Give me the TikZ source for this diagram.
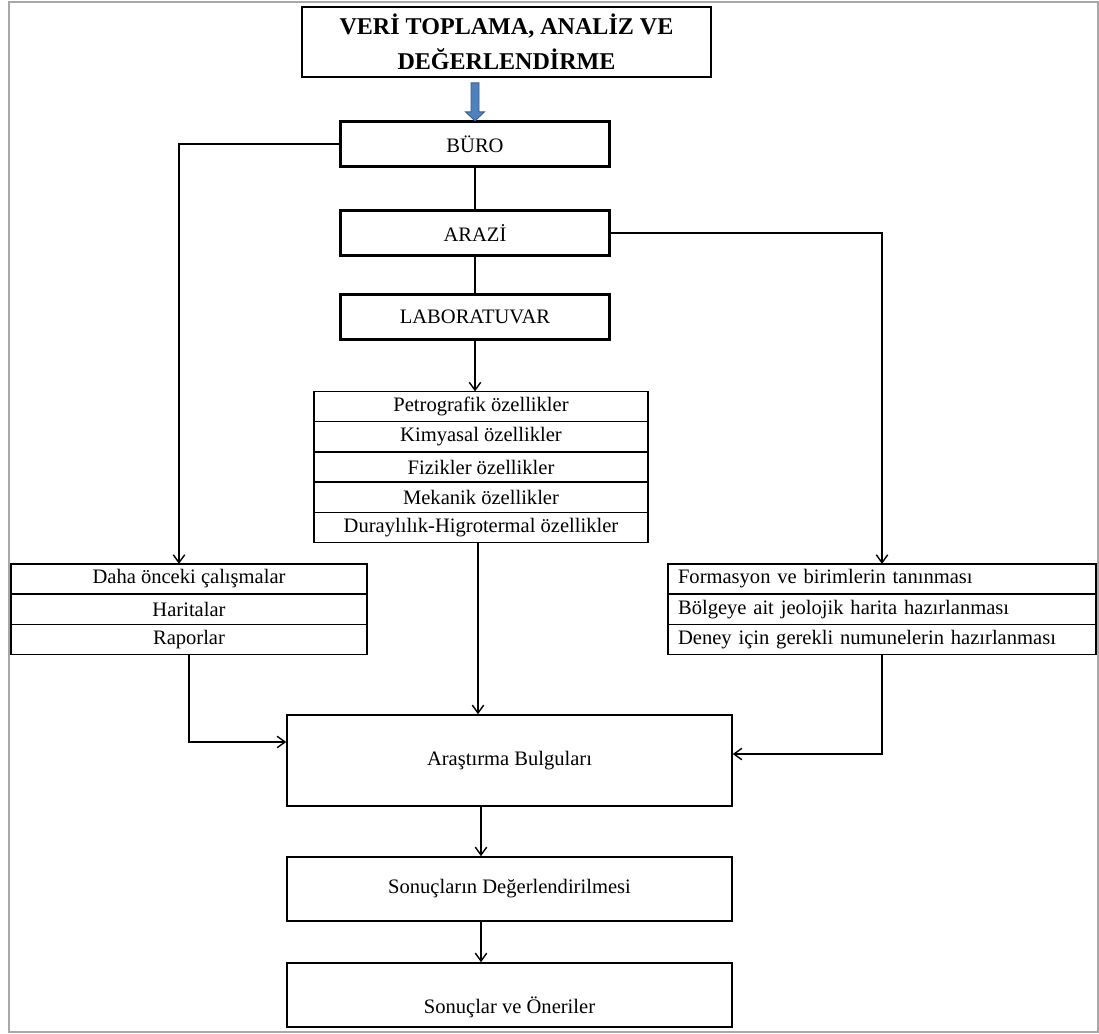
\documentclass[tikz,border=0pt]{standalone}
\usepackage{fontspec}
\setmainfont{Liberation Serif}
\usepackage{tikz}
\usetikzlibrary{calc,positioning,arrows.meta}
\definecolor{okmavi}{HTML}{4F81BD}
\definecolor{okkenar}{HTML}{385D8A}
\definecolor{cerceve}{HTML}{A8A8A8}

\begin{document}
\begin{tikzpicture}[x=0.02cm,y=-0.02cm,
    govde/.style={font=\fontsize{11.7}{14}\selectfont},
    baslik/.style={draw,line width=1pt,minimum width=8.18cm,minimum height=1.4cm,align=center,font=\fontsize{13.7}{19.8}\selectfont\bfseries},
    ana/.style={draw,line width=1.7pt,minimum width=5.4cm,minimum height=0.9cm,govde},
    satir/.style={draw,line width=0.8pt,minimum height=0.605cm,inner sep=0pt,outer sep=0pt,govde},
    ortasatir/.style={satir,minimum width=6.68cm},
    solsatir/.style={satir,minimum width=7.12cm},
    sagsatir/.style={satir,inner xsep=0.2cm,text width=8.16cm,align=left},
    kutu/.style={draw,line width=0.9pt,minimum width=8.9cm,govde},
    ok/.style={line width=0.8pt,-{Straight Barb[length=4.5pt,width=6.5pt]}},
    kalin/.style={line width=1.7pt}]

    % Sayfa boyutu ve dis cerceve
    \useasboundingbox (0,0) rectangle (1099,1034);
    \draw[cerceve,line width=1.1pt] (9,2) rectangle (1098,1032);

    % Baslik kutusu
    \node[baslik] (veri) at (506.5,42) {VERİ TOPLAMA, ANALİZ VE\\DEĞERLENDİRME};

    % Ana asamalar
    \node[ana] (buro) at (475,144) {BÜRO};
    \node[ana] (arazi) at (475,233) {ARAZİ};
    \node[ana] (lab) at (475,317) {LABORATUVAR};

    % Mavi kalin ok
    \filldraw[fill=okmavi,draw=okkenar,line width=0.5pt]
        ($(veri.south -| buro.north)+(-4,5)$) -- ++(8,0) -- ++(0,29) -- ++(5.5,0)
        -- ++(-9.5,9) -- ++(-9.5,-9) -- ++(5.5,0) -- cycle;

    % Laboratuvar ozellikleri
    \node[ortasatir] (p1) at (481,406.5) {Petrografik özellikler};
    \node[ortasatir,below=0pt of p1] (p2) {Kimyasal özellikler};
    \node[ortasatir,below=0pt of p2] (p3) {Fizikler özellikler};
    \node[ortasatir,below=0pt of p3] (p4) {Mekanik özellikler};
    \node[ortasatir,below=0pt of p4] (p5) {Duraylılık-Higrotermal özellikler};

    % Buro calismalari
    \node[solsatir] (d1) at (189,579) {Daha önceki çalışmalar};
    \node[solsatir,below=0pt of d1] (d2) {Haritalar};
    \node[solsatir,below=0pt of d2] (d3) {Raporlar};

    % Arazi calismalari
    \node[sagsatir] (f1) at (882,579) {Formasyon ve birimlerin tanınması};
    \node[sagsatir,below=0pt of f1] (f2) {Bölgeye ait jeolojik harita hazırlanması};
    \node[sagsatir,below=0pt of f2] (f3) {Deney için gerekli numunelerin hazırlanması};

    % Sonuc kutulari
    \node[kutu,minimum height=1.82cm] (bulgu) at (509.5,760.5) {Araştırma Bulguları};
    \node[kutu,minimum height=1.28cm] (deger) at (509.5,889) {Sonuçların Değerlendirilmesi};
    \node[kutu,inner ysep=0pt,text height=1.0cm,text depth=0.28cm] (oneri) at (509.5,995) {Sonuçlar ve Öneriler};

    % Baglantilar
    \draw[kalin] (buro) -- (arazi);
    \draw[kalin] (arazi) -- (lab);
    \draw[ok] (lab.south) -- (lab.south |- p1.north);
    \draw[ok] (buro.west) -| ($(d1.north)+(-10,0)$);
    \draw[ok] (arazi.east) -| (f1.north);
    \draw[ok] ($(p5.south)+(-3,0)$) -- ($(p5.south |- bulgu.north)+(-3,0)$);

    \coordinate (solgiris) at ($(bulgu.north west)!0.3!(bulgu.south west)$);
    \coordinate (saggiris) at ($(bulgu.north east)!0.43!(bulgu.south east)$);
    \draw[ok] (d3.south) |- (solgiris);
    \draw[ok] (f3.south) |- (saggiris);

    \draw[ok] (bulgu.south -| p5.south) -- (deger.north -| p5.south);
    \draw[ok] (deger.south -| p5.south) -- (oneri.north -| p5.south);

\end{tikzpicture}
\end{document}
